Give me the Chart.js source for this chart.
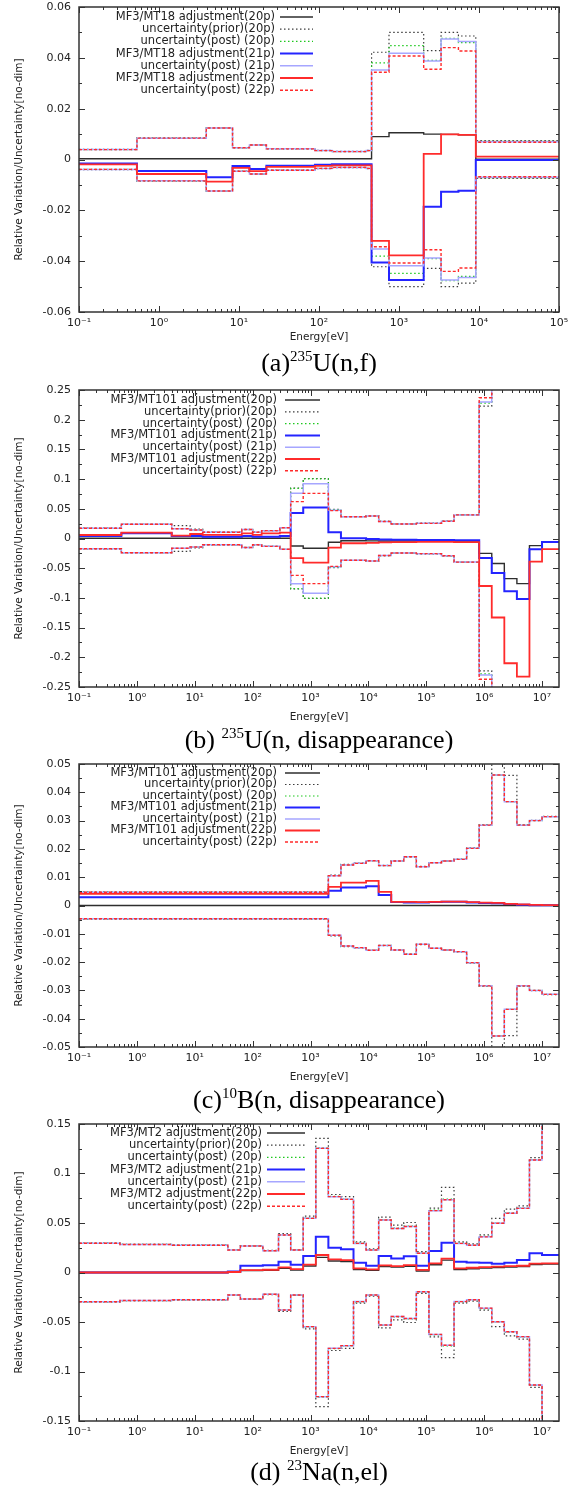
<!DOCTYPE html>
<html>
<head>
<meta charset="utf-8">
<title>Adjustment and uncertainty</title>
<script src="https://cdn.jsdelivr.net/npm/chart.js@4.4.1/dist/chart.umd.min.js"></script>
<style>
  html, body { margin: 0; padding: 0; background: #fff; }
  body { position: relative; width: 580px; height: 1493px; overflow: hidden; }
  canvas { position: absolute; left: 0; }
  .caption {
    position: absolute; left: 79px; width: 480px; text-align: center;
    font-family: "Liberation Serif", "Times New Roman", serif;
    font-size: 26px; line-height: 26px; color: #000; white-space: nowrap;
  }
  .caption sup { font-size: 15px; position: relative; top: -10px; vertical-align: baseline; line-height: 0; }
</style>
</head>
<body>
<canvas id="chartA" width="580" height="350" style="top:0px"></canvas>
<canvas id="chartB" width="580" height="350" style="top:380px"></canvas>
<canvas id="chartC" width="580" height="335" style="top:755px"></canvas>
<canvas id="chartD" width="580" height="349" style="top:1115px"></canvas>
<div class="caption" style="top:350px">(a)<sup>235</sup>U(n,f)</div>
<div class="caption" style="top:727px">(b) <sup>235</sup>U(n, disappearance)</div>
<div class="caption" style="top:1087px">(c)<sup>10</sup>B(n, disappearance)</div>
<div class="caption" style="top:1459px">(d) <sup>23</sup>Na(n,el)</div>
<script>
// ---- (a) 235U(n,f), MF3/MT18 : group bounds [eV] and one value per group ----
const aEdges   = [0.1, 0.53, 3.9, 8.3, 13.5, 22, 89, 145, 390, 454, 750, 2035, 3355, 5530, 9120, 1e5];
const aAdj20   = [0.0003, 0.0003, 0.0003, 0.0003, 0.0003, 0.0003, 0.0003, 0.0003, 0.0003, 0.0090, 0.0105, 0.0100, 0.0099, 0.0097, 0.0001];
const aPrior20 = [0.0040, 0.0085, 0.0125, 0.0047, 0.0058, 0.0043, 0.0036, 0.0032, 0.0036, 0.0422, 0.0500, 0.0428, 0.0500, 0.0486, 0.0074];
const aPost20  = [0.0039, 0.0084, 0.0124, 0.0046, 0.0057, 0.0042, 0.0035, 0.0031, 0.0035, 0.0380, 0.0448, 0.0390, 0.0477, 0.0460, 0.0071];
const aAdj21   = [-0.0016, -0.0045, -0.0070, -0.0026, -0.0037, -0.0025, -0.0021, -0.0019, -0.0019, -0.0405, -0.0474, -0.0186, -0.0127, -0.0123, -0.0002];
const aPost21  = [0.0039, 0.0084, 0.0124, 0.0046, 0.0057, 0.0042, 0.0035, 0.0031, 0.0035, 0.0352, 0.0418, 0.0388, 0.0474, 0.0464, 0.0070];
const aAdj22   = [-0.0019, -0.0057, -0.0087, -0.0033, -0.0046, -0.0029, -0.0025, -0.0023, -0.0023, -0.0320, -0.0377, 0.0022, 0.0099, 0.0097, 0.0011];
const aPost22  = [0.0039, 0.0084, 0.0124, 0.0046, 0.0057, 0.0042, 0.0035, 0.0031, 0.0035, 0.0343, 0.0407, 0.0355, 0.0440, 0.0427, 0.0068];
const aDecades = [0.1, 1, 10, 100, 1e3, 1e4, 1e5];
const aYTicks  = [-0.06, -0.04, -0.02, 0, 0.02, 0.04, 0.06];
const aLegend  = ['MF3/MT18 adjustment(20p)', 'uncertainty(prior)(20p)', 'uncertainty(post) (20p)',
                  'MF3/MT18 adjustment(21p)', 'uncertainty(post) (21p)',
                  'MF3/MT18 adjustment(22p)', 'uncertainty(post) (22p)'];

// ---- (b) 235U(n, disappearance), MF3/MT101 ----
const bEdges   = [0.1, 0.54, 4, 8.3, 13.7, 65, 100, 143, 295, 454, 748, 2035, 3355, 9119, 15034, 24788, 67379,
                  183156, 301974, 820850, 1353353, 2231302, 3678794, 6065307, 1e7, 1.964e7];
const bAdj20   = [0.0005, 0.0005, 0.0005, 0.0005, 0.0005, 0.0005, 0.0005, 0.0005, 0.0005, -0.0125, -0.0165, -0.0064,
                  -0.0037, -0.0040, -0.0042, -0.0042, -0.0042, -0.0042, -0.0042, -0.0250, -0.0420, -0.0675, -0.0760, -0.0120, -0.0060];
const bPrior20 = [0.0175, 0.0240, 0.0216, 0.0160, 0.0108, 0.0153, 0.0106, 0.0134, 0.0185, 0.0850, 0.1010, 0.0490,
                  0.0370, 0.0382, 0.0290, 0.0245, 0.0258, 0.0295, 0.0400, 0.2230, 0.30, 0.30, 0.30, 0.30, 0.30];
const bPost20  = [0.0172, 0.0239, 0.0168, 0.0145, 0.0104, 0.0151, 0.0104, 0.0132, 0.0182, 0.0845, 0.1005, 0.0485,
                  0.0368, 0.0380, 0.0288, 0.0244, 0.0256, 0.0292, 0.0398, 0.2280, 0.30, 0.30, 0.30, 0.30, 0.30];
const bAdj21   = [0.0040, 0.0087, 0.0042, 0.0040, 0.0030, 0.0040, 0.0030, 0.0030, 0.0040, 0.0430, 0.0520, 0.0104,
                  0.0005, -0.0010, -0.0015, -0.0020, -0.0025, -0.0025, -0.0030, -0.0330, -0.0580, -0.0890, -0.1020, -0.0180, -0.0060];
const bPost21  = [0.0172, 0.0239, 0.0166, 0.0144, 0.0104, 0.0151, 0.0104, 0.0132, 0.0182, 0.0760, 0.0920, 0.0475,
                  0.0367, 0.0380, 0.0287, 0.0244, 0.0255, 0.0291, 0.0397, 0.2300, 0.30, 0.30, 0.30, 0.30, 0.30];
const bAdj22   = [0.0059, 0.0098, 0.0048, 0.0076, 0.0060, 0.0087, 0.0060, 0.0085, 0.0098, -0.0330, -0.0407, -0.0155,
                  -0.0080, -0.0075, -0.0065, -0.0060, -0.0058, -0.0058, -0.0060, -0.0800, -0.1330, -0.2100, -0.2325, -0.0390, -0.0180];
const bPost22  = [0.0172, 0.0239, 0.0165, 0.0143, 0.0104, 0.0151, 0.0104, 0.0132, 0.0182, 0.0620, 0.0760, 0.0470,
                  0.0367, 0.0380, 0.0287, 0.0244, 0.0255, 0.0291, 0.0397, 0.2370, 0.30, 0.30, 0.30, 0.30, 0.30];
const bDecades = [0.1, 1, 10, 100, 1e3, 1e4, 1e5, 1e6, 1e7];
const bYTicks  = [-0.25, -0.2, -0.15, -0.1, -0.05, 0, 0.05, 0.1, 0.15, 0.2, 0.25];
const bLegend  = ['MF3/MT101 adjustment(20p)', 'uncertainty(prior)(20p)', 'uncertainty(post) (20p)',
                  'MF3/MT101 adjustment(21p)', 'uncertainty(post) (21p)',
                  'MF3/MT101 adjustment(22p)', 'uncertainty(post) (22p)'];

// ---- (c) 10B(n, disappearance), MF3/MT101 ----
const cEdges   = [0.1, 2035, 3355, 5531, 9119, 15034, 24788, 40868, 67379, 111090, 183156, 301974, 497871,
                  820850, 1353353, 2231302, 3678794, 6065307, 1e7, 1.964e7];
const cAdj20   = [0, 0, 0, 0, 0, 0, 0, 0, 0, 0, 0, 0, 0, 0, 0, 0, 0, 0, 0];
const cPrior20 = [0.0048, 0.0107, 0.0145, 0.0150, 0.0159, 0.0142, 0.0158, 0.0173, 0.0138, 0.0152, 0.0158, 0.0164,
                  0.0204, 0.0286, 0.0560, 0.0460, 0.0286, 0.0301, 0.0315];
const cPost20  = [0.0047, 0.0106, 0.0144, 0.0149, 0.0158, 0.0141, 0.0157, 0.0172, 0.0137, 0.0151, 0.0157, 0.0163,
                  0.0202, 0.0284, 0.0461, 0.0367, 0.0284, 0.0300, 0.0314];
const cAdj21   = [0.0029, 0.0052, 0.0064, 0.0064, 0.0068, 0.0037, 0.0012, 0.0011, 0.0011, 0.0012, 0.0013, 0.0013,
                  0.0011, 0.0009, 0.0008, 0.0005, 0.0003, 0.0001, 0.0001];
const cPost21  = [0.0047, 0.0105, 0.0143, 0.0149, 0.0158, 0.0141, 0.0157, 0.0172, 0.0137, 0.0151, 0.0157, 0.0163,
                  0.0202, 0.0284, 0.0461, 0.0367, 0.0284, 0.0300, 0.0314];
const cAdj22   = [0.0041, 0.0066, 0.0081, 0.0081, 0.0087, 0.0048, 0.0013, 0.0013, 0.0012, 0.0013, 0.0014, 0.0014,
                  0.0012, 0.0010, 0.0009, 0.0006, 0.0004, 0.0002, 0.0001];
const cPost22  = [0.0047, 0.0105, 0.0143, 0.0149, 0.0158, 0.0141, 0.0157, 0.0172, 0.0137, 0.0151, 0.0157, 0.0163,
                  0.0202, 0.0284, 0.0461, 0.0367, 0.0284, 0.0300, 0.0314];
const cDecades = [0.1, 1, 10, 100, 1e3, 1e4, 1e5, 1e6, 1e7];
const cYTicks  = [-0.05, -0.04, -0.03, -0.02, -0.01, 0, 0.01, 0.02, 0.03, 0.04, 0.05];
const cLegend  = bLegend;

// ---- (d) 23Na(n,el), MF3/MT2 ----
const dEdges   = [0.1, 0.51, 4, 37.3, 61.4, 150, 280, 454, 748, 1234, 2035, 3355, 5531, 9119, 15034, 24788, 40868,
                  67379, 111090, 183156, 301974, 497871, 820850, 1353353, 2231302, 3678794, 6065307, 1e7, 1.964e7];
const dAdj20   = [0, 0, 0, 0.0003, 0.0020, 0.0023, 0.0043, 0.0025, 0.0065, 0.0153, 0.0116, 0.0110, 0.0030, 0.0022,
                  0.0060, 0.0055, 0.0062, 0.0015, 0.0078, 0.0125, 0.0030, 0.0038, 0.0045, 0.0050, 0.0055, 0.0060, 0.0080, 0.0085];
const dPrior20 = [0.0297, 0.0285, 0.0277, 0.0230, 0.0272, 0.0223, 0.0394, 0.0232, 0.0570, 0.1355, 0.0788, 0.0766,
                  0.0310, 0.0240, 0.0560, 0.0478, 0.0505, 0.0210, 0.0650, 0.0860, 0.0310, 0.0290, 0.0380, 0.0547,
                  0.0640, 0.0673, 0.1160, 0.20];
const dPost20  = [0.0296, 0.0284, 0.0276, 0.0228, 0.0269, 0.0221, 0.0381, 0.0228, 0.0550, 0.1260, 0.0770, 0.0742,
                  0.0296, 0.0229, 0.0534, 0.0448, 0.0468, 0.0196, 0.0630, 0.0742, 0.0296, 0.0278, 0.0364, 0.0500,
                  0.0602, 0.0651, 0.1140, 0.20];
const dAdj21   = [0, 0, 0, 0.0010, 0.0069, 0.0072, 0.0109, 0.0078, 0.0167, 0.0362, 0.0250, 0.0236, 0.0098, 0.0069,
                  0.0166, 0.0142, 0.0165, 0.0067, 0.0217, 0.0301, 0.0109, 0.0100, 0.0099, 0.0088, 0.0099, 0.0126, 0.0194, 0.0177];
const dPost21  = [0.0295, 0.0283, 0.0275, 0.0227, 0.0268, 0.0220, 0.0379, 0.0227, 0.0547, 0.1254, 0.0766, 0.0739,
                  0.0294, 0.0227, 0.0530, 0.0445, 0.0465, 0.0194, 0.0625, 0.0735, 0.0294, 0.0276, 0.0360, 0.0497,
                  0.0598, 0.0648, 0.1136, 0.20];
const dAdj22   = [0, 0, 0, 0.0005, 0.0025, 0.0028, 0.0052, 0.0035, 0.0080, 0.0177, 0.0133, 0.0125, 0.0042, 0.0032,
                  0.0072, 0.0064, 0.0075, 0.0027, 0.0092, 0.0140, 0.0042, 0.0048, 0.0055, 0.0060, 0.0064, 0.0068, 0.0090, 0.0093];
const dPost22  = [0.0295, 0.0283, 0.0275, 0.0227, 0.0268, 0.0220, 0.0379, 0.0227, 0.0547, 0.1254, 0.0766, 0.0739,
                  0.0294, 0.0227, 0.0530, 0.0445, 0.0465, 0.0194, 0.0625, 0.0735, 0.0294, 0.0276, 0.0360, 0.0497,
                  0.0598, 0.0648, 0.1136, 0.20];
const dDecades = [0.1, 1, 10, 100, 1e3, 1e4, 1e5, 1e6, 1e7];
const dYTicks  = [-0.15, -0.1, -0.05, 0, 0.05, 0.1, 0.15];
const dLegend  = ['MF3/MT2 adjustment(20p)', 'uncertainty(prior)(20p)', 'uncertainty(post) (20p)',
                  'MF3/MT2 adjustment(21p)', 'uncertainty(post) (21p)',
                  'MF3/MT2 adjustment(22p)', 'uncertainty(post) (22p)'];

// line styles, same in all four plots (gnuplot-ish)
const STYLES = {
  adj20:   { color: '#2e2e2e', width: 1.4, dash: [] },
  prior20: { color: '#3c3c3c', width: 1.2, dash: [1.5, 2.5] },
  post20:  { color: '#1ec81e', width: 1.2, dash: [1.5, 2.5] },
  adj21:   { color: '#2424ff', width: 2,   dash: [] },
  post21:  { color: '#a6a6ff', width: 1.5, dash: [] },
  adj22:   { color: '#ff2b2b', width: 1.8, dash: [] },
  post22:  { color: '#ff2b2b', width: 1.4, dash: [3, 2] }
};
const SERIES_KEYS = ['adj20', 'prior20', 'post20', 'adj21', 'post21', 'adj22', 'post22'];

Chart.defaults.font.family = '"DejaVu Sans", sans-serif';
Chart.defaults.color = '#222';

const SUP = { '-': '\u207B', '0': '\u2070', '1': '\u00B9', '2': '\u00B2', '3': '\u00B3',
              '4': '\u2074', '5': '\u2075', '6': '\u2076', '7': '\u2077', '8': '\u2078', '9': '\u2079' };
function decadeLabel(v) {
  const e = Math.round(Math.log10(v));
  return '10' + String(e).split('').map(c => SUP[c]).join('');
}

// one point per group start plus the closing bound, drawn as a step
function stepPoints(edges, vals, sign) {
  const pts = vals.map((v, i) => ({ x: edges[i], y: sign * v }));
  pts.push({ x: edges[edges.length - 1], y: sign * vals[vals.length - 1] });
  return pts;
}

// border box, inward ticks on all four sides and the key inside the plot
const frameAndKey = {
  id: 'frameAndKey',
  afterDatasetsDraw(chart, args, opts) {
    const { ctx, chartArea: area, scales: { x, y } } = chart;
    ctx.save();
    ctx.strokeStyle = '#333';
    ctx.lineWidth = 1;
    ctx.setLineDash([]);
    ctx.beginPath();
    const lo = Math.floor(Math.log10(x.min)), hi = Math.ceil(Math.log10(x.max));
    for (let k = lo; k <= hi; k++) {
      for (let m = 1; m <= 9; m++) {
        const v = m * Math.pow(10, k);
        if (v < x.min * 0.999 || v > x.max * 1.001) continue;
        const px = Math.round(x.getPixelForValue(v)) + 0.5;
        const len = m === 1 ? 6 : 3;
        ctx.moveTo(px, area.bottom); ctx.lineTo(px, area.bottom - len);
        ctx.moveTo(px, area.top); ctx.lineTo(px, area.top + len);
      }
    }
    const yt = y.ticks.map(t => t.value);
    yt.forEach((v, i) => {
      const marks = [[v, 6]];
      if (i < yt.length - 1) marks.push([(v + yt[i + 1]) / 2, 3]);
      marks.forEach(([val, len]) => {
        const py = Math.round(y.getPixelForValue(val)) + 0.5;
        ctx.moveTo(area.left, py); ctx.lineTo(area.left + len, py);
        ctx.moveTo(area.right, py); ctx.lineTo(area.right - len, py);
      });
    });
    ctx.stroke();
    ctx.lineWidth = 1.5;
    ctx.strokeRect(area.left, area.top, area.right - area.left, area.bottom - area.top);

    ctx.font = '11.5px "DejaVu Sans"';
    ctx.textAlign = 'right';
    ctx.textBaseline = 'middle';
    opts.labels.forEach((text, i) => {
      const st = STYLES[SERIES_KEYS[i]];
      const ky = area.top + opts.firstRow + i * opts.rowGap;
      ctx.fillStyle = '#222';
      ctx.fillText(text, area.left + opts.textRight, ky);
      ctx.strokeStyle = st.color;
      ctx.lineWidth = st.width;
      ctx.setLineDash(st.dash);
      ctx.beginPath();
      ctx.moveTo(area.left + opts.lineFrom, ky);
      ctx.lineTo(area.left + opts.lineTo, ky);
      ctx.stroke();
    });
    ctx.restore();
  }
};

function buildChart(id, p) {
  const values = {
    adj20: p.adj20, prior20: p.prior20, post20: p.post20,
    adj21: p.adj21, post21: p.post21, adj22: p.adj22, post22: p.post22
  };
  const datasets = [];
  SERIES_KEYS.forEach((key, i) => {
    const st = STYLES[key];
    // uncertainties are plotted as +/- bands
    const signs = key.startsWith('adj') ? [1] : [1, -1];
    signs.forEach(sg => {
      datasets.push({
        label: p.legend[i],
        data: stepPoints(p.edges, values[key], sg),
        borderColor: st.color,
        borderWidth: st.width,
        borderDash: st.dash,
        stepped: true,
        pointRadius: 0,
        fill: false,
        order: -datasets.length
      });
    });
  });

  return new Chart(document.getElementById(id), {
    type: 'line',
    data: { datasets },
    options: {
      responsive: false,
      animation: false,
      events: [],
      layout: { padding: { left: 0, right: 21, top: p.padTop, bottom: 0 } },
      plugins: {
        legend: { display: false },
        tooltip: { enabled: false },
        frameAndKey: p.key
      },
      scales: {
        x: {
          type: 'logarithmic',
          min: p.decades[0],
          max: p.xMax,
          grid: { display: false, drawTicks: false },
          border: { display: false },
          ticks: { autoSkip: false, maxRotation: 0, padding: 5, font: { size: 11 }, callback: v => decadeLabel(v) },
          title: { display: true, text: 'Energy[eV]', font: { size: 10.5 }, padding: { top: 0, bottom: 6 } },
          afterBuildTicks: sc => { sc.ticks = p.decades.map(v => ({ value: v })); },
          afterFit: sc => { sc.height = p.xAxisH; sc.paddingLeft = 0; sc.paddingRight = 0; }
        },
        y: {
          type: 'linear',
          min: p.yTicks[0],
          max: p.yTicks[p.yTicks.length - 1],
          grid: { display: false, drawTicks: false },
          border: { display: false },
          ticks: { padding: 8, font: { size: 11 },
                   callback: v => { const r = Math.round(v * 1000) / 1000; return r === 0 ? '0' : String(r); } },
          title: { display: true, text: 'Relative Variation/Uncertainty[no-dim]', font: { size: 10.5 }, padding: { top: 13, bottom: 0 } },
          afterBuildTicks: sc => { sc.ticks = p.yTicks.map(v => ({ value: v })); },
          afterFit: sc => { sc.width = 79; sc.paddingTop = 0; sc.paddingBottom = 0; }
        }
      }
    },
    plugins: [frameAndKey]
  });
}

buildChart('chartA', {
  edges: aEdges, adj20: aAdj20, prior20: aPrior20, post20: aPost20, adj21: aAdj21, post21: aPost21,
  adj22: aAdj22, post22: aPost22, legend: aLegend, decades: aDecades, xMax: 1e5, yTicks: aYTicks,
  padTop: 7, xAxisH: 38,
  key: { labels: aLegend, firstRow: 10, rowGap: 12.2, textRight: 196, lineFrom: 201, lineTo: 234 }
});
buildChart('chartB', {
  edges: bEdges, adj20: bAdj20, prior20: bPrior20, post20: bPost20, adj21: bAdj21, post21: bPost21,
  adj22: bAdj22, post22: bPost22, legend: bLegend, decades: bDecades, xMax: 1.964e7, yTicks: bYTicks,
  padTop: 10, xAxisH: 43,
  key: { labels: bLegend, firstRow: 10, rowGap: 11.8, textRight: 198, lineFrom: 206, lineTo: 241 }
});
buildChart('chartC', {
  edges: cEdges, adj20: cAdj20, prior20: cPrior20, post20: cPost20, adj21: cAdj21, post21: cPost21,
  adj22: cAdj22, post22: cPost22, legend: cLegend, decades: cDecades, xMax: 1.964e7, yTicks: cYTicks,
  padTop: 9, xAxisH: 43,
  key: { labels: cLegend, firstRow: 9, rowGap: 11.5, textRight: 198, lineFrom: 206, lineTo: 241 }
});
buildChart('chartD', {
  edges: dEdges, adj20: dAdj20, prior20: dPrior20, post20: dPost20, adj21: dAdj21, post21: dPost21,
  adj22: dAdj22, post22: dPost22, legend: dLegend, decades: dDecades, xMax: 1.964e7, yTicks: dYTicks,
  padTop: 9, xAxisH: 43,
  key: { labels: dLegend, firstRow: 9, rowGap: 12.2, textRight: 183, lineFrom: 188, lineTo: 226 }
});
</script>
</body>
</html>
